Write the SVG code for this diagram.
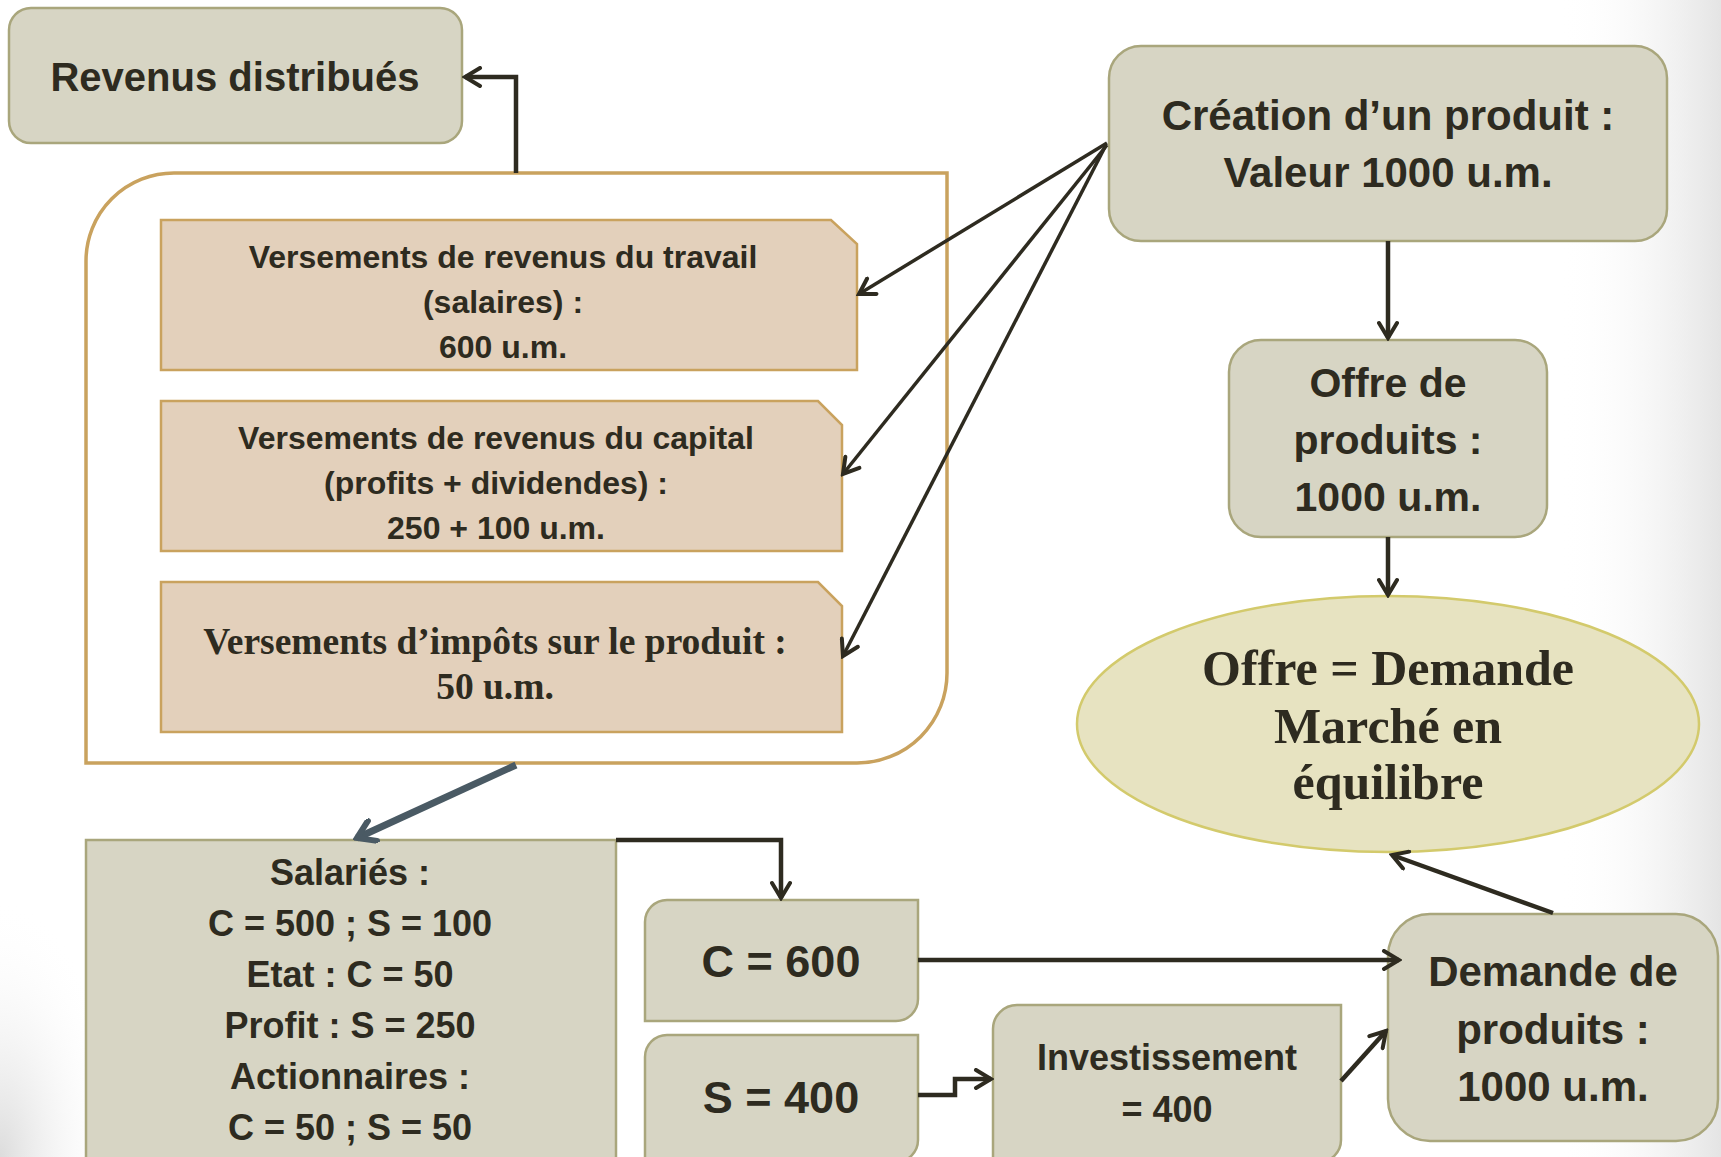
<svg xmlns="http://www.w3.org/2000/svg" width="1721" height="1157" viewBox="0 0 1721 1157">
<defs>
<style>
.box{fill:#d7d5c4;stroke:#a9a67c;stroke-width:2.5}
.pink{fill:#e3d0bb;stroke:#c9a25e;stroke-width:2.5}
.sans{font-family:"Liberation Sans",Arial,sans-serif;font-weight:bold;fill:#2e2b20;text-anchor:middle}
.serif{font-family:"Liberation Serif","Times New Roman",serif;font-weight:bold;fill:#2e2b20;text-anchor:middle}
.ln{fill:none;stroke:#2e2b20;stroke-width:4.5;marker-end:url(#arr)}
.thin{fill:none;stroke:#2e2b20;stroke-width:3.5;marker-end:url(#arr)}
</style>
<marker id="arr" viewBox="0 0 22 22" refX="19" refY="11" markerWidth="22" markerHeight="22" markerUnits="userSpaceOnUse" orient="auto">
<path d="M4,2 L19,11 L4,20" fill="none" stroke="#2e2b20" stroke-width="4" stroke-linecap="round"/>
</marker>
<marker id="arrb" viewBox="0 0 26 26" refX="22" refY="13" markerWidth="26" markerHeight="26" markerUnits="userSpaceOnUse" orient="auto">
<path d="M5,2 L22,13 L5,24" fill="none" stroke="#4a5a64" stroke-width="6" stroke-linecap="round"/>
</marker>
<linearGradient id="rg" x1="0" y1="0" x2="1" y2="0">
<stop offset="0" stop-color="#ffffff" stop-opacity="0"/>
<stop offset="1" stop-color="#e4e4e4"/>
</linearGradient>
<radialGradient id="bl" cx="0" cy="1" r="1">
<stop offset="0" stop-color="#dcdcdc"/>
<stop offset="1" stop-color="#ffffff" stop-opacity="0"/>
</radialGradient>
</defs>
<rect width="1721" height="1157" fill="#ffffff"/>
<rect x="1560" y="0" width="161" height="1157" fill="url(#rg)"/>
<rect x="0" y="900" width="120" height="257" fill="url(#bl)"/>

<g id="container">
<path d="M86,763 L86,261 A88,88 0 0 1 174,173 L947,173 L947,673 A90,90 0 0 1 857,763 Z" fill="none" stroke="#c9a25e" stroke-width="3.5"/>
</g>

<g id="revenus">
<rect class="box" x="9" y="8" width="453" height="135" rx="22"/>
<text class="sans" x="235" y="91" font-size="40">Revenus distribués</text>
</g>

<g id="travail">
<path class="pink" d="M161,220 H831 L857,244 V370 H161 Z"/>
<text class="sans" font-size="32"><tspan x="503" y="268">Versements de revenus du travail</tspan><tspan x="503" y="313">(salaires) :</tspan><tspan x="503" y="358">600 u.m.</tspan></text>
</g>

<g id="capital">
<path class="pink" d="M161,401 H818 L842,425 V551 H161 Z"/>
<text class="sans" font-size="32"><tspan x="496" y="449">Versements de revenus du capital</tspan><tspan x="496" y="494">(profits + dividendes) :</tspan><tspan x="496" y="539">250 + 100 u.m.</tspan></text>
</g>

<g id="impots">
<path class="pink" d="M161,582 H818 L842,606 V732 H161 Z"/>
<text class="serif" font-size="37.5"><tspan x="495" y="654">Versements d’impôts sur le produit :</tspan><tspan x="495" y="699">50 u.m.</tspan></text>
</g>

<g id="creation">
<rect class="box" x="1109" y="46" width="558" height="195" rx="32"/>
<text class="sans" font-size="42"><tspan x="1388" y="130">Création d’un produit :</tspan><tspan x="1388" y="187">Valeur 1000 u.m.</tspan></text>
</g>

<g id="offre">
<rect class="box" x="1229" y="340" width="318" height="197" rx="32"/>
<text class="sans" font-size="41"><tspan x="1388" y="397">Offre de</tspan><tspan x="1388" y="454">produits :</tspan><tspan x="1388" y="511">1000 u.m.</tspan></text>
</g>

<g id="equilibre">
<ellipse cx="1388" cy="724" rx="311" ry="128" fill="#e7e3c1" stroke="#d3ca6c" stroke-width="2.5"/>
<text class="serif" font-size="50"><tspan x="1388" y="685">Offre = Demande</tspan><tspan x="1388" y="743">Marché en</tspan><tspan x="1388" y="799">équilibre</tspan></text>
</g>

<g id="demande">
<rect class="box" x="1388" y="914" width="330" height="227" rx="42"/>
<text class="sans" font-size="42"><tspan x="1553" y="986">Demande de</tspan><tspan x="1553" y="1044">produits :</tspan><tspan x="1553" y="1101">1000 u.m.</tspan></text>
</g>

<g id="salaries">
<rect class="box" x="86" y="840" width="530" height="330"/>
<text class="sans" font-size="36"><tspan x="350" y="885">Salariés :</tspan><tspan x="350" y="936">C = 500 ; S = 100</tspan><tspan x="350" y="987">Etat : C = 50</tspan><tspan x="350" y="1038">Profit : S = 250</tspan><tspan x="350" y="1089">Actionnaires :</tspan><tspan x="350" y="1140">C = 50 ; S = 50</tspan></text>
</g>

<g id="c600">
<path class="box" d="M667,900 H918 V999 A22,22 0 0 1 896,1021 H645 V922 A22,22 0 0 1 667,900 Z"/>
<text class="sans" x="781" y="977" font-size="45">C = 600</text>
</g>

<g id="s400">
<path class="box" d="M667,1035 H918 V1140 A22,22 0 0 1 896,1162 H645 V1057 A22,22 0 0 1 667,1035 Z"/>
<text class="sans" x="781" y="1113" font-size="45">S = 400</text>
</g>

<g id="invest">
<path class="box" d="M1017,1005 H1341 V1140 A22,22 0 0 1 1319,1162 H993 V1029 A24,24 0 0 1 1017,1005 Z"/>
<text class="sans" font-size="36"><tspan x="1167" y="1070">Investissement</tspan><tspan x="1167" y="1122">= 400</tspan></text>
</g>

<g id="connectors">
<path class="ln" d="M516,173 V77 H465"/>
<path class="thin" d="M1107,143 L859,294"/>
<path class="thin" d="M1107,145 L843,474"/>
<path class="thin" d="M1105,147 L843,656"/>
<path class="ln" d="M1388,241 V338"/>
<path class="ln" d="M1388,537 V595"/>
<path class="ln" d="M1553,913 L1392,855"/>
<path fill="none" stroke="#4a5a64" stroke-width="7" marker-end="url(#arrb)" d="M516,765 L357,838"/>
<path class="ln" d="M616,840 H781 V898"/>
<path class="ln" d="M918,960 H1399"/>
<path class="ln" d="M918,1095 H955 V1079 H991"/>
<path class="ln" d="M1341,1081 L1386,1031"/>
</g>
</svg>
